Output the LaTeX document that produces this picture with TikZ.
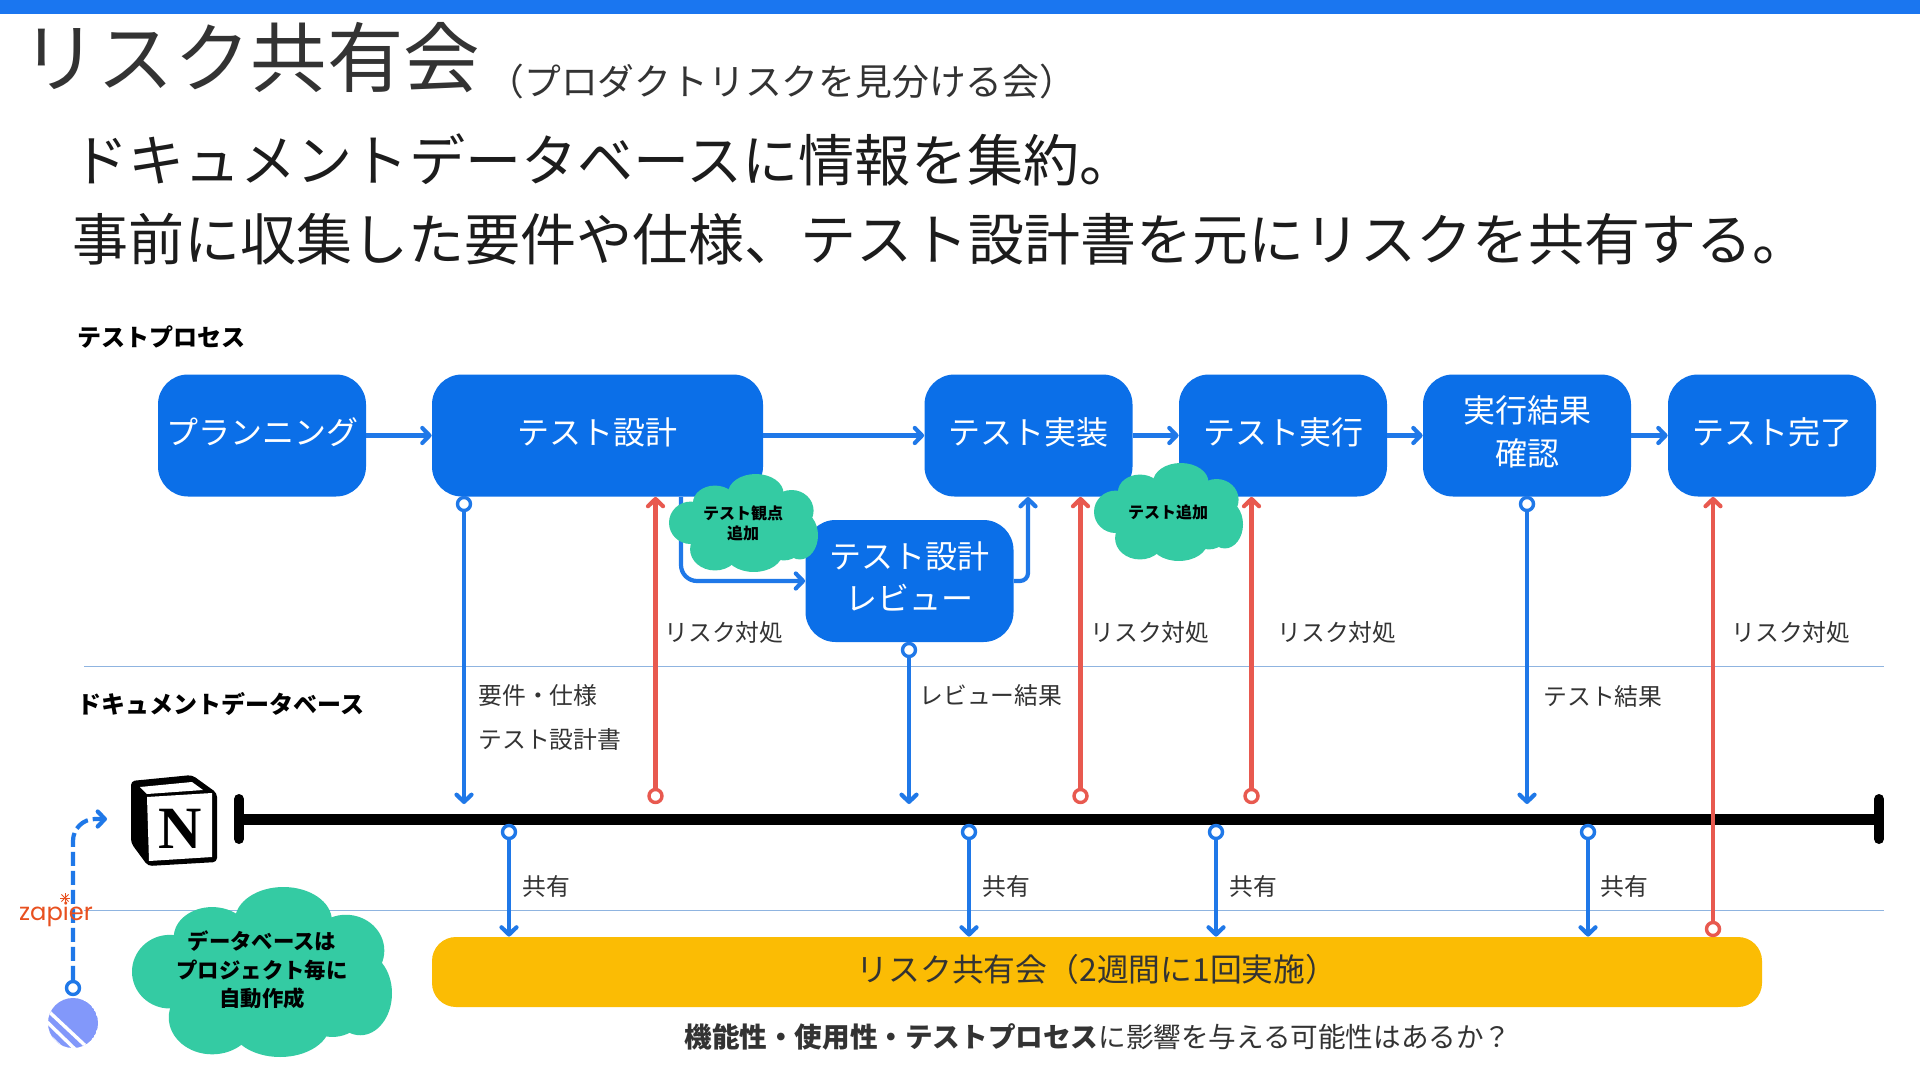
\documentclass[tikz,border=0pt]{standalone}
\usepackage{fontspec}
\setmainfont{Noto Sans CJK JP}
\newfontfamily\nfont{Liberation Serif}
\newfontfamily\zfont{Poppins}
\usetikzlibrary{arrows.meta}
\definecolor{boxblue}{HTML}{0B6FE8}
\definecolor{lineblue}{HTML}{1F78E8}
\definecolor{topblue}{HTML}{1A76F0}
\definecolor{riskred}{HTML}{E8594F}
\definecolor{baramber}{HTML}{FBBC04}
\definecolor{cloudgreen}{HTML}{34CBA3}
\definecolor{rulecol}{HTML}{8FB4E0}
\definecolor{inkdark}{HTML}{333333}
\definecolor{inkbody}{HTML}{1C1C1C}
\definecolor{zaporange}{HTML}{E8501F}
\definecolor{linearcol}{HTML}{8298FA}
\newcommand\fsz[1]{\fontsize{#1}{#1}\selectfont}
\newcommand\twolines[2]{\raisebox{2.8pt}{\begin{tabular}{@{}c@{}}#1\\[3.25pt]#2\end{tabular}}}
\newcommand\cloudat[4]{%
  \begin{scope}[shift={(#1,#2)},xscale=#3/778,yscale=#4/508]
    \fill[cloudgreen] (453,100) ellipse [x radius=145,y radius=100];
    \fill[cloudgreen] (240,150) ellipse [x radius=115,y radius=90];
    \fill[cloudgreen] (640,190) ellipse [x radius=115,y radius=107];
    \fill[cloudgreen] (113,253) ellipse [x radius=113,y radius=110];
    \fill[cloudgreen] (683,318) ellipse [x radius=95,y radius=125];
    \fill[cloudgreen] (240,390) ellipse [x radius=130,y radius=110];
    \fill[cloudgreen] (443,408) ellipse [x radius=150,y radius=100];
    \fill[cloudgreen] (600,340) ellipse [x radius=110,y radius=108];
    \fill[cloudgreen] (150,130) rectangle (640,400);
  \end{scope}}
\tikzset{
  x=0.5pt,y=-0.5pt,
  procbox/.style={fill=boxblue,text=white,rounded corners=15pt,minimum width=104pt,minimum height=61pt,inner sep=0pt,align=center},
  flow/.style={draw=lineblue,line width=2.1pt,-{Straight Barb[length=3.6pt,width=7.5pt,round]}},
  risk/.style={draw=riskred,line width=2.1pt,-{Straight Barb[length=3.6pt,width=7.5pt,round]}},
  dotb/.style={circle,draw=lineblue,fill=white,line width=1.7pt,minimum size=6.5pt,inner sep=0pt},
  dotr/.style={circle,draw=riskred,fill=white,line width=1.7pt,minimum size=6.5pt,inner sep=0pt},
  lbl/.style={anchor=west,inner sep=0pt,text=inkdark,font=\fsz{11.9}},
  head/.style={anchor=west,inner sep=0pt,text=black,font=\fsz{12}\bfseries},
  ruleline/.style={draw=rulecol,line width=0.5pt},
  boxt/.style={font=\fsz{16}},
  note/.style={inner sep=0pt,text=black,align=center}
}
\begin{document}
\begin{tikzpicture}
\useasboundingbox (0,0) rectangle (1920,1080);
\fill[white] (0,0) rectangle (1920,1080);
\fill[topblue] (0,0) rectangle (1920,14);
% titles
\node[anchor=west,inner sep=0pt,text=inkdark,font=\fsz{38.2}] (title) at (21,58) {リスク共有会};
\node[anchor=west,inner sep=0pt,text=inkdark,font=\fsz{18.4}] (subtitle) at (487,82) {（プロダクトリスクを見分ける会）};
\node[anchor=west,inner sep=0pt,text=inkbody,font=\fsz{28.05}] (line1) at (72,160) {ドキュメントデータベースに情報を集約。};
\node[anchor=west,inner sep=0pt,text=inkbody,font=\fsz{28}] (line2) at (72,239) {事前に収集した要件や仕様、テスト設計書を元にリスクを共有する。};
\node[head] (hproc) at (77,337) {テストプロセス};
\node[head] (hdb) at (77,704) {ドキュメントデータベース};
% dividers
\coordinate (r1a) at (84,666); \coordinate (r1b) at (1884,666);
\coordinate (r2a) at (84,910); \coordinate (r2b) at (1884,910);
\draw[ruleline] (r1a) -- (r1b);
\draw[ruleline] (r2a) -- (r2b);
% process boxes
\node[procbox,boxt] (plan) at (262,435.5) {\raisebox{4.6pt}{プランニング}};
\node[procbox,boxt,minimum width=165.5pt] (design) at (597.5,435.5) {\raisebox{4.6pt}{テスト設計}};
\node[procbox,boxt] (impl) at (1028.5,435.5) {\raisebox{4.6pt}{テスト実装}};
\node[procbox,boxt] (exec) at (1283,435.5) {\raisebox{4.6pt}{テスト実行}};
\node[procbox,boxt] (result) at (1527,435.5) {\twolines{実行結果}{確認}};
\node[procbox,boxt] (done) at (1772,435.5) {\raisebox{4.6pt}{テスト完了}};
\node[procbox,boxt] (review) at (909.5,581) {\twolines{テスト設計}{レビュー}};
% process arrows
\draw[flow] (plan.east) -- (design.west);
\draw[flow] (design.east) -- (impl.west);
\draw[flow] (impl.east) -- (exec.west);
\draw[flow] (exec.east) -- (result.west);
\draw[flow] (result.east) -- (done.west);
\coordinate (elbow1) at (681,497);
\coordinate (elbow2) at (1028,497);
\draw[flow,rounded corners=8pt] (elbow1) |- (review.west);
\draw[flow,rounded corners=4pt] (review.east) -| (elbow2);
% database line
\coordinate (dba) at (239,819); \coordinate (dbb) at (1879,819);
\coordinate (capa1) at (239,799); \coordinate (capa2) at (239,839);
\coordinate (capb1) at (1879,799); \coordinate (capb2) at (1879,839);
\draw[black,line width=5.5pt] (dba) -- (dbb);
\draw[black,line width=5pt,line cap=round] (capa1) -- (capa2);
\draw[black,line width=5pt,line cap=round] (capb1) -- (capb2);
% yellow bar
\node[fill=baramber,rounded corners=12pt,minimum width=665pt,minimum height=35pt,inner sep=0pt,text=inkdark,font=\fsz{15.9}] (bar) at (1097,972) {\raisebox{4.4pt}{リスク共有会（2週間に1回実施）}};
\node[inner sep=0pt,text=inkdark,font=\fsz{13.8}] (question) at (1098,1037) {\textbf{機能性・使用性・テストプロセス}に影響を与える可能性はあるか？};
% upload arrows (blue, down)
\node[dotb] (u1) at (464,504) {};
\node[dotb] (u2) at (909,650) {};
\node[dotb] (u3) at (1527,504) {};
\coordinate (u1e) at (464,804);
\coordinate (u2e) at (909,804);
\coordinate (u3e) at (1527,804);
\draw[flow] (u1) -- (u1e);
\draw[flow] (u2) -- (u2e);
\draw[flow] (u3) -- (u3e);
% risk arrows
\node[dotr] (r1) at (655.5,796) {};
\node[dotr] (r2) at (1080.5,796) {};
\node[dotr] (r3) at (1251.5,796) {};
\node[dotr] (r4) at (1713,929) {};
\draw[risk] (r1) -- (r1 |- design.south);
\draw[risk] (r2) -- (r2 |- impl.south);
\draw[risk] (r3) -- (r3 |- exec.south);
\draw[risk] (r4) -- (r4 |- done.south);
% share arrows
\node[dotb] (s1) at (509,832) {};
\node[dotb] (s2) at (969,832) {};
\node[dotb] (s3) at (1216,832) {};
\node[dotb] (s4) at (1588,832) {};
\draw[flow] (s1) -- (s1 |- bar.north);
\draw[flow] (s2) -- (s2 |- bar.north);
\draw[flow] (s3) -- (s3 |- bar.north);
\draw[flow] (s4) -- (s4 |- bar.north);
% labels
\node[lbl] (l1) at (664,632) {リスク対処};
\node[lbl] (l2) at (1090,632) {リスク対処};
\node[lbl] (l3) at (1277,632) {リスク対処};
\node[lbl] (l4) at (1731,632) {リスク対処};
\node[lbl] (l5) at (478,695) {要件・仕様};
\node[lbl] (l6) at (478,739) {テスト設計書};
\node[lbl] (l7) at (919,695) {レビュー結果};
\node[lbl] (l8) at (1543,696) {テスト結果};
\node[lbl] (l9) at (522,886) {共有};
\node[lbl] (l10) at (982,886) {共有};
\node[lbl] (l11) at (1229,886) {共有};
\node[lbl] (l12) at (1600,886) {共有};
% clouds
\cloudat{669}{474}{149}{98}
\cloudat{1094}{463}{149}{98}
\cloudat{132}{887}{260}{170}
\node[note,font=\fsz{8}\bfseries] (c1) at (743,523) {テスト観点\\[2.1pt]追加};
\node[note,font=\fsz{8}\bfseries] (c2) at (1168,512) {テスト追加};
\node[note,font=\fsz{10.7}\bfseries] (c3) at (262,970) {データベースは\\[3.6pt]プロジェクト毎に\\[3.6pt]自動作成};
% Notion logo
\fill[black,rounded corners=2pt] (131,781) -- (192,775) -- (217,793) -- (217,862) -- (148,866) -- (131,843) -- cycle;
\fill[white] (147,797) -- (212,793) -- (212,857) -- (149,861) -- cycle;
\fill[white] (140,787) -- (192,782) -- (203,790) -- (147,794) -- cycle;
\node[inner sep=0pt,font=\nfont\fsz{30}\bfseries,text=black] (notion) at (180,829) {N};
% Linear logo
\begin{scope}
  \clip (73,1023) circle [radius=25];
  \fill[linearcol] (73,1023) circle [radius=25];
  \draw[white,line width=1.7pt] (44,1007) -- (90,1050);
  \draw[white,line width=1.7pt] (44,1019) -- (78,1052);
  \draw[white,line width=1.7pt] (44,1031) -- (66,1052);
\end{scope}
% Zapier
\node[dotb] (zstart) at (73,988) {};
\coordinate (ztop) at (107,819);
\draw[draw=lineblue,line width=2.1pt,dash pattern=on 7pt off 2.5pt,-{Straight Barb[length=3.6pt,width=7.5pt,round]},rounded corners=11pt] (zstart) -- (73,819) -- (ztop);
\node[inner sep=0pt,font=\zfont\fsz{12.1},text=zaporange] (zapier) at (56,914.5) {zapier};
\foreach \a in {0,45,...,315}{\draw[zaporange,line width=0.5pt] (65,898) -- ++(\a:5);}
\end{tikzpicture}
\end{document}
